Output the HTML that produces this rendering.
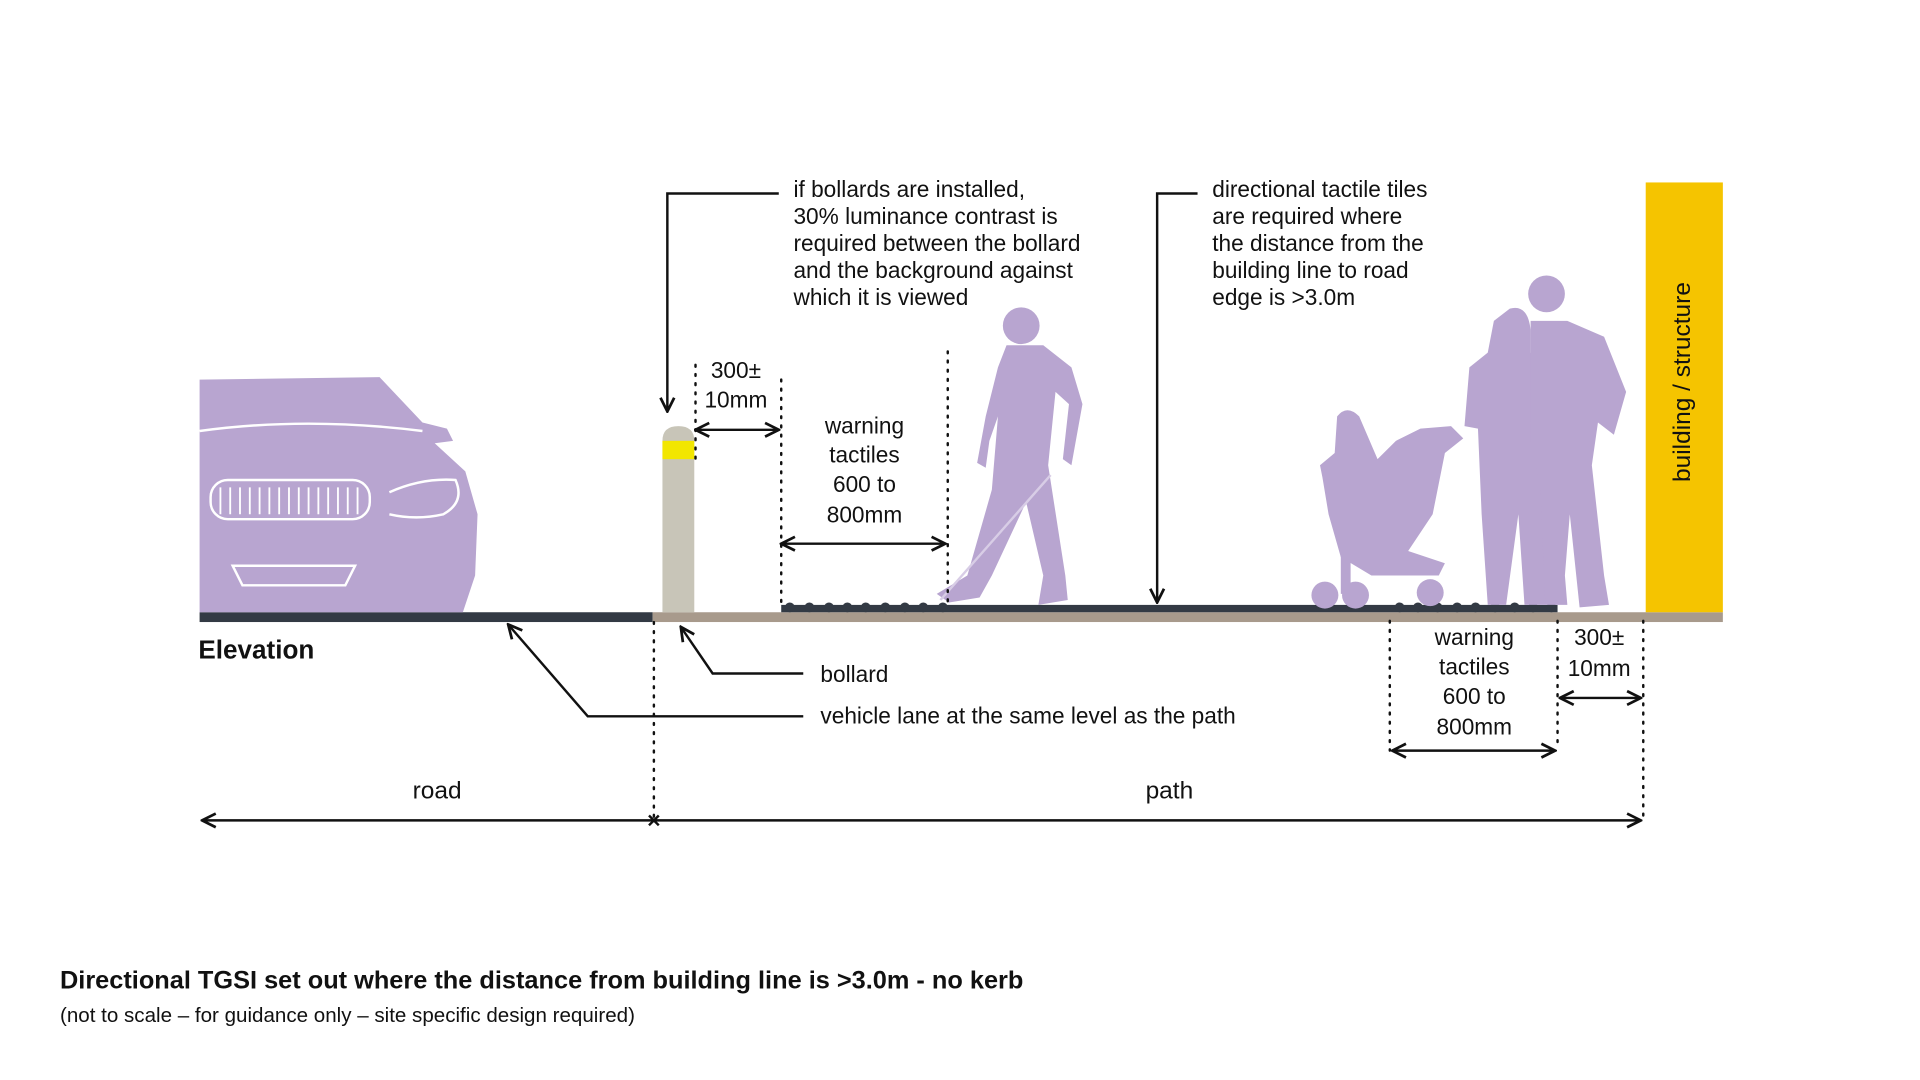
<!DOCTYPE html>
<html><head><meta charset="utf-8"><style>
html,body{margin:0;padding:0;background:#fff;}
svg{display:block}
text{font-family:"Liberation Sans",Arial,sans-serif;fill:#111;}
</style></head><body>
<svg width="1920" height="1080" viewBox="0 0 1568 882" preserveAspectRatio="none" xmlns="http://www.w3.org/2000/svg">
<defs>
<marker id="ah" viewBox="0 0 10 10" refX="9" refY="5" markerWidth="7" markerHeight="7" orient="auto-start-reverse"><path d="M1,1 L9,5 L1,9" fill="none" stroke="#111" stroke-width="1.6"/></marker>
</defs>
<rect width="1568" height="882" fill="#fff"/>

<!-- ground -->
<rect x="163" y="500" width="370" height="8" fill="#333a44"/>
<rect x="533" y="500" width="874" height="8" fill="#a89a8c"/>
<rect x="638" y="494" width="634" height="6" fill="#333a44"/>
<g fill="#333a44">
<circle cx="645" cy="496" r="4"/><circle cx="661" cy="496" r="4"/><circle cx="677" cy="496" r="4"/><circle cx="692" cy="496" r="4"/><circle cx="707" cy="496" r="4"/><circle cx="723" cy="496" r="4"/><circle cx="739" cy="496" r="4"/><circle cx="754" cy="496" r="4"/><circle cx="770" cy="496" r="4"/>
<circle cx="1143" cy="496" r="4"/><circle cx="1158" cy="496" r="4"/><circle cx="1174" cy="496" r="4"/><circle cx="1190" cy="496" r="4"/><circle cx="1205" cy="496" r="4"/><circle cx="1221" cy="496" r="4"/><circle cx="1237" cy="496" r="4"/><circle cx="1252" cy="496" r="4"/><circle cx="1267" cy="496" r="4"/>
</g>

<!-- building -->
<rect x="1344" y="149" width="63" height="351" fill="#f5c400"/>
<text x="0" y="0" font-size="20" text-anchor="middle" dominant-baseline="middle" transform="translate(1375,312) rotate(-90)">building / structure</text>

<!-- bollard -->
<path d="M541,500 V360 Q541,348 554,348 Q567,348 567,360 V500 Z" fill="#c8c5b8"/>
<rect x="541" y="360" width="26" height="15" fill="#f2e600"/>

<!-- car -->
<g fill="#b8a5d0">
<path d="M163,310 L310,308 L345,345 L365,350 L370,360 L355,362 L380,385 L390,420 L388,470 L378,500 L163,500 Z"/>
</g>
<g fill="none" stroke="#fff" stroke-width="2">
<rect x="172" y="392" width="130" height="32" rx="14"/>
<path d="M180,398 V420 M188,398 V420 M196,398 V420 M204,398 V420 M212,398 V420 M220,398 V420 M228,398 V420 M236,398 V420 M244,398 V420 M252,398 V420 M260,398 V420 M268,398 V420 M276,398 V420 M284,398 V420 M292,398 V420" stroke-width="1.5"/>
<path d="M163,352 Q250,340 345,352"/>
<path d="M318,402 Q345,390 372,392 Q380,410 362,420 Q340,425 318,420"/>
<path d="M190,462 L290,462 L282,478 L198,478 Z"/>
</g>

<!-- walking man -->
<g fill="#b8a5d0">
<circle cx="834" cy="266" r="15"/>
<path d="M822,282 L852,282 L875,300 L884,330 L875,380 L868,375 L873,330 L862,320 L856,380 L870,470 L872,490 L848,494 L852,470 L838,410 L810,470 L800,488 L775,492 L765,485 L790,470 L810,400 L815,340 L808,360 L805,382 L798,378 L805,340 L815,300 Z"/>
</g>
<line x1="858" y1="388" x2="768" y2="490" stroke="#d8cde6" stroke-width="2"/>

<!-- stroller -->
<g fill="#b8a5d0">
<path d="M1092,340 Q1100,330 1110,340 L1125,375 L1140,360 L1160,350 L1185,348 L1195,358 L1180,370 L1170,420 L1150,450 L1180,460 L1175,470 L1120,470 L1095,455 L1085,420 L1080,390 L1078,380 L1090,370 Z"/>
<circle cx="1082" cy="486" r="11"/><circle cx="1107" cy="486" r="11"/><circle cx="1168" cy="484" r="11"/>
<rect x="1095" y="445" width="8" height="40"/>
</g>

<!-- couple -->
<g fill="#b8a5d0">
<path d="M1233,252 Q1248,248 1250,270 L1250,288 L1262,300 L1262,380 L1270,470 L1262,494 L1245,494 L1240,420 L1230,494 L1215,494 L1210,420 L1207,350 L1196,348 L1200,300 L1215,288 L1220,262 Z"/>
<circle cx="1263" cy="240" r="15"/>
<path d="M1250,262 L1280,262 L1310,275 L1328,320 L1318,355 L1305,345 L1300,380 L1310,470 L1314,494 L1290,496 L1282,420 L1278,470 L1280,494 L1262,494 L1258,400 L1250,360 Z"/>
</g>

<!-- top leaders -->
<g fill="none" stroke="#111" stroke-width="2">
<path d="M636,158 H545 V336" marker-end="url(#ah)"/>
<path d="M978,158 H945 V492" marker-end="url(#ah)"/>
<path d="M568,351 H636" marker-start="url(#ah)" marker-end="url(#ah)"/>
<path d="M638,444 H772" marker-start="url(#ah)" marker-end="url(#ah)"/>
<path d="M1137,613 H1270" marker-start="url(#ah)" marker-end="url(#ah)"/>
<path d="M1274,570 H1340" marker-start="url(#ah)" marker-end="url(#ah)"/>
<path d="M656,550 H582 L556,512" marker-end="url(#ah)"/>
<path d="M656,585 H480 L415,510" marker-end="url(#ah)"/>
<path d="M165,670 H1340" marker-start="url(#ah)" marker-end="url(#ah)"/>
<path d="M530,666 L538,674 M538,666 L530,674"/>
</g>
<g fill="none" stroke="#111" stroke-width="2" stroke-dasharray="1.5 6" stroke-linecap="round">
<path d="M568,298 V375"/>
<path d="M638,310 V494"/>
<path d="M774,287 V494"/>
<path d="M534,508 V668"/>
<path d="M1135,507 V613"/>
<path d="M1272,507 V610"/>
<path d="M1342,507 V668"/>
</g>

<g font-size="18.5" dominant-baseline="middle">
<text x="648" y="156">if bollards are installed,</text>
<text x="648" y="178">30% luminance contrast is</text>
<text x="648" y="200">required between the bollard</text>
<text x="648" y="222">and the background against</text>
<text x="648" y="244">which it is viewed</text>
<text x="990" y="156">directional tactile tiles</text>
<text x="990" y="178">are required where</text>
<text x="990" y="200">the distance from the</text>
<text x="990" y="222">building line to road</text>
<text x="990" y="244">edge is &gt;3.0m</text>
<g text-anchor="middle">
<text x="601" y="304">300±</text><text x="601" y="328">10mm</text>
<text x="706" y="349">warning</text><text x="706" y="373">tactiles</text><text x="706" y="397">600 to</text><text x="706" y="422">800mm</text>
<text x="1204" y="522">warning</text><text x="1204" y="546">tactiles</text><text x="1204" y="570">600 to</text><text x="1204" y="595">800mm</text>
<text x="1306" y="522">300±</text><text x="1306" y="547">10mm</text>
<text x="357" y="647" font-size="20">road</text>
<text x="955" y="647" font-size="20">path</text>
</g>
<text x="670" y="552">bollard</text>
<text x="670" y="586">vehicle lane at the same level as the path</text>
<text x="162" y="532" font-size="21.3" font-weight="bold">Elevation</text>
<text x="49" y="802" font-size="20.7" font-weight="bold">Directional TGSI set out where the distance from building line is &gt;3.0m - no kerb</text>
<text x="49" y="830" font-size="16.8" fill="#333">(not to scale – for guidance only – site specific design required)</text>
</g>
</svg>
</body></html>
